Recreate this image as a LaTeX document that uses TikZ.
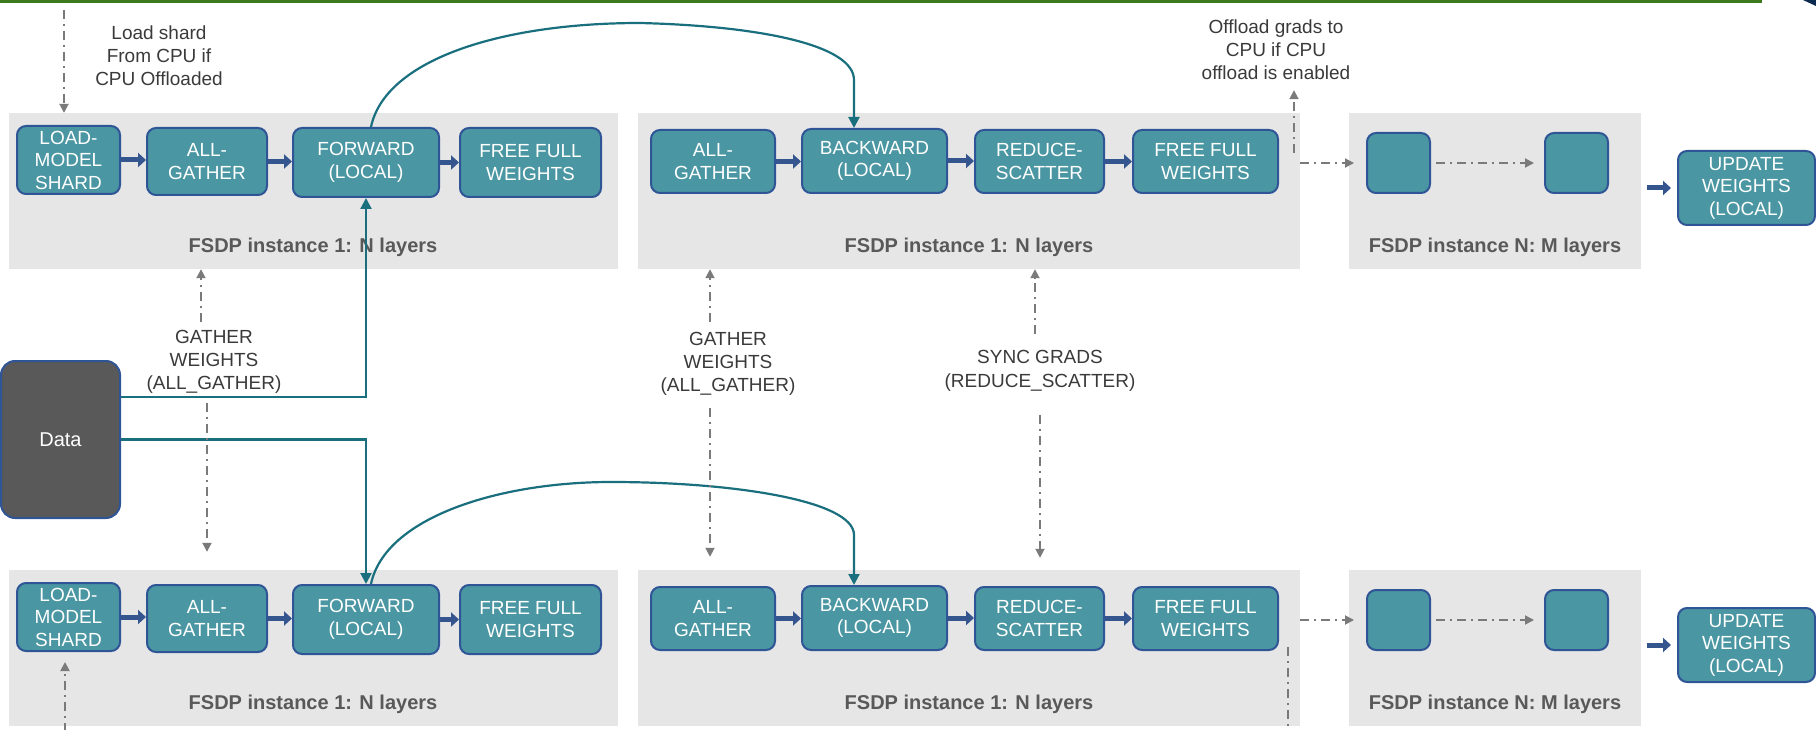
\documentclass[tikz,border=0pt]{standalone}
\usepackage{fontspec}
\setmainfont{Liberation Sans}
\usetikzlibrary{arrows.meta,calc}

\definecolor{boxfill}{HTML}{4A96A2}
\definecolor{boxline}{HTML}{2F5597}
\definecolor{panelgray}{HTML}{E6E6E6}
\definecolor{titlegray}{HTML}{595959}
\definecolor{notegray}{HTML}{3A3A3A}
\definecolor{flowblue}{HTML}{34558E}
\definecolor{linkteal}{HTML}{1A6F7E}
\definecolor{dashgray}{HTML}{7A7A7A}
\definecolor{datagray}{HTML}{595959}
\definecolor{topgreen}{HTML}{3D7A1F}
\definecolor{cornernavy}{HTML}{0C2B4E}

\tikzset{
  box/.style={rectangle, fill=boxfill, draw=boxline, line width=2pt,
    rounded corners=9pt, text=white, align=center, inner sep=0pt,
    font=\fontsize{19}{22.5}\selectfont},
  databox/.style={rectangle, fill=datagray, draw=boxline, line width=2pt,
    rounded corners=14pt, text=white, inner sep=0pt,
    font=\fontsize{20}{24}\selectfont},
  panel/.style={rectangle, fill=panelgray, draw=none, inner sep=0pt},
  paneltitle/.style={text=titlegray, inner sep=0pt,
    font=\fontsize{20}{24}\selectfont\bfseries},
  note/.style={text=notegray, align=center, inner sep=3pt,
    font=\fontsize{19}{23}\selectfont},
  flow/.style={draw=flowblue, line width=5pt, -{Triangle[length=8pt,width=14pt]}},
  link/.style={draw=linkteal, line width=2.2pt, -{Triangle[length=11pt,width=11pt]}},
  dashline/.style={draw=dashgray, line width=1.8pt,
    dash pattern=on 9pt off 5pt on 2pt off 5pt},
  dasharrow/.style={dashline, -{Triangle[length=9pt,width=9pt]}},
}

% \rectnode{style}{name}{x1}{y1}{x2}{y2}{text}: node filling a given rectangle
\newcommand\rectnode[7]{%
  \node[#1, minimum width={((#5)-(#3))*1pt}, minimum height={((#6)-(#4))*1pt}]
    (#2) at ({((#3)+(#5))/2},{((#4)+(#6))/2}) {#7};}

% One training pass: forward instance, backward instance, last instance, update
\newcommand\fsdprow[2]{%
  \begin{scope}[shift={(0,#2)}]
    \rectnode{panel}{#1pa}{9}{113}{618}{269}{}
    \rectnode{panel}{#1pb}{638}{113}{1300}{269}{}
    \rectnode{panel}{#1pc}{1349}{113}{1641}{269}{}
    \node[paneltitle] (#1ta) at (313,247) {FSDP instance 1: N layers};
    \node[paneltitle] (#1tb) at (969,247) {FSDP instance 1: N layers};
    \node[paneltitle] (#1tc) at (1495,247) {FSDP instance N: M layers};
    \rectnode{box}{#1load}{17}{126}{120}{194}{LOAD-\\MODEL\\SHARD}
    \rectnode{box}{#1agA}{147}{128}{267}{195}{ALL-\\GATHER}
    \rectnode{box}{#1fw}{293}{128}{439}{197}{FORWARD\\(LOCAL)}
    \rectnode{box}{#1ffA}{460}{128}{601}{197}{FREE FULL\\WEIGHTS}
    \rectnode{box}{#1agB}{651}{130}{775}{193}{ALL-\\GATHER}
    \rectnode{box}{#1bw}{802}{129}{947}{193}{BACKWARD\\(LOCAL)}
    \rectnode{box}{#1rs}{975}{130}{1104}{193}{REDUCE-\\SCATTER}
    \rectnode{box}{#1ffB}{1133}{130}{1278}{193}{FREE FULL\\WEIGHTS}
    \rectnode{box}{#1sa}{1367}{133}{1430}{193}{}
    \rectnode{box}{#1sb}{1545}{133}{1608}{193}{}
    \rectnode{box}{#1up}{1678}{151}{1815}{225}{UPDATE\\WEIGHTS\\(LOCAL)}
    \draw[flow] (#1load.east) -- (#1load.east -| #1agA.west);
    \draw[flow] (#1agA.east) -- (#1agA.east -| #1fw.west);
    \draw[flow] (#1fw.east) -- (#1fw.east -| #1ffA.west);
    \draw[flow] (#1agB.east) -- (#1agB.east -| #1bw.west);
    \draw[flow] (#1bw.east) -- (#1bw.east -| #1rs.west);
    \draw[flow] (#1rs.east) -- (#1rs.east -| #1ffB.west);
    \draw[flow] ([xshift=6pt]#1pc.east |- #1up.west) -- ([xshift=-6pt]#1up.west);
    \draw[dasharrow, shorten >=12pt] (#1pb.east |- #1sa.west) -- (#1sa.west);
    \draw[dasharrow, shorten <=5pt, shorten >=10pt] (#1sa.east) -- (#1sb.west);
  \end{scope}}

\begin{document}
\begin{tikzpicture}[x=1pt,y=-1pt]
  \useasboundingbox (0,0) rectangle (1816,730);

  % header rule
  \fill[topgreen] (0,0) rectangle (1762,3);
  \fill[cornernavy] (1803,0) -- (1816,0) -- (1816,6) -- cycle;

  % the two ranks
  \fsdprow{t}{0}
  \fsdprow{b}{457}

  % input data
  \rectnode{databox}{data}{1}{361}{120}{518}{Data}
  \draw[link] ([yshift=42.5pt]data.east) -| (tfw.south);
  \draw[link] (data.east) -| (bfw.north);

  % activations carried from forward to backward
  \draw[link] ([xshift=5pt]tfw.north) .. controls (385,60) and (500,23) .. (640,23)
    .. controls (760,26) and (854,45) .. (854,80) -- ([xshift=-20.5pt]tbw.north);
  \draw[link] ([xshift=5pt]bfw.north) .. controls (385,517) and (500,482) .. (611,482)
    .. controls (730,482) and (854,500) .. (854,535) -- ([xshift=-20.5pt]bbw.north);

  % notes
  \node[note] (loadnote) at (159,56) {Load shard\\From CPU if\\CPU Offloaded};
  \node[note] (offnote) at (1276,50) {Offload grads to\\CPU if CPU\\offload is enabled};
  \node[note] (gw1) at (214,362) {GATHER\\WEIGHTS\\(ALL\_GATHER)};
  \node[note] (gw2) at (728,364) {GATHER\\WEIGHTS\\(ALL\_GATHER)};
  \node[note, font=\fontsize{19}{24}\selectfont] (sg) at (1040,371)
    {SYNC GRADS\\(REDUCE\_SCATTER)};

  % collectives between the ranks
  \coordinate (g1u) at (201,0);
  \coordinate (g1d) at (207,0);
  \coordinate (g2x) at (710,0);
  \coordinate (sgu) at (1035,0);
  \coordinate (sgd) at (1040,0);
  \draw[dasharrow, shorten <=5pt] (gw1.north -| g1u) -- (tpa.south -| g1u);
  \draw[dasharrow, shorten <=6pt, shorten >=18pt] (gw1.south -| g1d) -- (bpa.north -| g1d);
  \draw[dasharrow, shorten <=7pt] (gw2.north -| g2x) -- (tpb.south -| g2x);
  \draw[dasharrow, shorten <=9pt, shorten >=13pt] (gw2.south -| g2x) -- (bpb.north -| g2x);
  \draw[dasharrow, shorten <=13pt] (sg.north -| sgu) -- (tpb.south -| sgu);
  \draw[dasharrow, shorten <=20pt, shorten >=12pt] (sg.south -| sgd) -- (bpb.north -| sgd);

  % host offload paths
  \coordinate (ldtop) at (64,10);
  \draw[dasharrow] (ldtop) -- (ldtop |- tpa.north);
  \coordinate (ldbot) at (65,732);
  \draw[dasharrow, shorten >=10pt] (ldbot) -- (ldbot |- bload.south);
  \coordinate (offa) at (1294,153);
  \draw[dasharrow, shorten >=7pt] (offa) -- (offa |- offnote.south);
  \coordinate (offb) at (1288,647);
  \coordinate (offc) at (1288,732);
  \draw[dashline] (offb) -- (offc);
\end{tikzpicture}
\end{document}
